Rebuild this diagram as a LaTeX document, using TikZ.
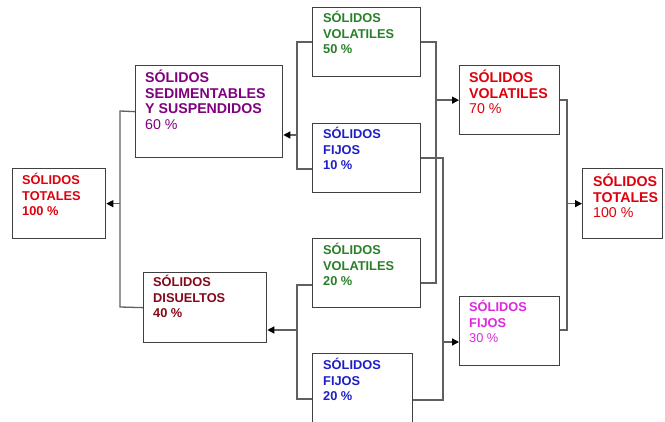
\documentclass[tikz,border=0pt]{standalone}
\usepackage{fontspec}
\setmainfont{Liberation Sans}
\usetikzlibrary{arrows.meta,calc}
\definecolor{cRed}{RGB}{222,0,12}
\definecolor{cPurple}{RGB}{128,0,128}
\definecolor{cMaroon}{RGB}{132,8,24}
\definecolor{cGreen}{RGB}{40,128,40}
\definecolor{cBlue}{RGB}{30,30,200}
\definecolor{cMagenta}{RGB}{222,40,222}
\definecolor{cBorder}{RGB}{64,64,64}
\definecolor{cLine}{RGB}{96,96,96}
\newcommand{\smallf}{\fontsize{12.8}{15.5}\selectfont\bfseries}
\newcommand{\largef}{\fontsize{14.2}{15.5}\selectfont\bfseries}
\begin{document}
\begin{tikzpicture}[x=1pt,y=-1pt,
  box/.style={draw=cBorder,line width=1.3pt,fill=white,rectangle,inner sep=0pt,anchor=north west},
  lab/.style={anchor=base west,inner sep=0pt,align=left},
  conn/.style={draw=cLine,line width=1.3pt},
  arr/.style={draw=cLine,line width=1.3pt,-{Triangle[length=7pt,width=7pt,color=black]}}]
\useasboundingbox (0,0) rectangle (665,422);
\clip (0,0) rectangle (665,422);
\fill[white] (0,0) rectangle (665,422);
% boxes
\node[box,minimum width=93pt,minimum height=70pt] (st1) at (12,168) {};
\node[box,minimum width=147pt,minimum height=92pt] (sed) at (135,65) {};
\node[box,minimum width=123pt,minimum height=70pt] (dis) at (143,272) {};
\node[box,minimum width=108pt,minimum height=69pt] (volA) at (312,7) {};
\node[box,minimum width=108pt,minimum height=69pt] (fijA) at (312,123) {};
\node[box,minimum width=108pt,minimum height=69pt] (volB) at (312,238) {};
\node[box,minimum width=100pt,minimum height=80pt] (fijB) at (312,353) {};
\node[box,minimum width=100pt,minimum height=69pt] (v70) at (459,65) {};
\node[box,minimum width=100pt,minimum height=69pt] (f30) at (459,296) {};
\node[box,minimum width=80pt,minimum height=70pt] (st2) at (582,168) {};
% labels
\node[lab,text=cRed,font=\smallf] (tst1) at (22,185) {\vtop{\hbox{SÓLIDOS}\hbox{TOTALES}\hbox{100 \%}}};
\node[lab,text=cPurple,font=\largef] (tsed) at (145,83) {\vtop{\hbox{SÓLIDOS}\hbox{SEDIMENTABLES}\hbox{Y SUSPENDIDOS}\hbox{\mdseries 60 \%}}};
\node[lab,text=cMaroon,font=\smallf] (tdis) at (153,287) {\vtop{\hbox{SÓLIDOS}\hbox{DISUELTOS}\hbox{40 \%}}};
\node[lab,text=cGreen,font=\smallf] (tvolA) at (323,23) {\vtop{\hbox{SÓLIDOS}\hbox{VOLATILES}\hbox{50 \%}}};
\node[lab,text=cBlue,font=\smallf] (tfijA) at (323,139) {\vtop{\hbox{SÓLIDOS}\hbox{FIJOS}\hbox{10 \%}}};
\node[lab,text=cGreen,font=\smallf] (tvolB) at (323,255) {\vtop{\hbox{SÓLIDOS}\hbox{VOLATILES}\hbox{20 \%}}};
\node[lab,text=cBlue,font=\smallf] (tfijB) at (323,370) {\vtop{\hbox{SÓLIDOS}\hbox{FIJOS}\hbox{20 \%}}};
\node[lab,text=cRed,font=\largef] (tv70) at (469,83) {\vtop{\hbox{SÓLIDOS}\hbox{VOLATILES}\hbox{\mdseries 70 \%}}};
\node[lab,text=cMagenta,font=\smallf] (tf30) at (469,312) {\vtop{\hbox{SÓLIDOS}\hbox{FIJOS}\hbox{\mdseries 30 \%}}};
\node[lab,text=cRed,font=\largef] (tst2) at (593,187) {\vtop{\hbox{SÓLIDOS}\hbox{TOTALES}\hbox{\mdseries 100 \%}}};
% junction coordinates
\coordinate (lt) at (120,111);
\coordinate (lb) at (120,307);
\coordinate (mt2) at (297,169);
\coordinate (ma) at (297,135);
\coordinate (mb1) at (297,285);
\coordinate (mb2) at (297,399);
\coordinate (mba) at (297,330);
\coordinate (r1) at (436,283);
\coordinate (r2) at (443,400);
\coordinate (r2a) at (443,342);
\coordinate (r3) at (567,330);
% connectors
\draw[conn] (sed.west) -- (lt) -- (lb) -- (dis.west);
\draw[arr] (lt |- st1.east) -- (st1.east);
\draw[conn] (volA.west) -| (mt2) -- (mt2 -| fijA.west);
\draw[arr] (ma) -- (ma -| sed.east);
\draw[conn] (mb1 -| volB.west) -- (mb1) -- (mb2) -- (mb2 -| fijB.west);
\draw[arr] (mba) -- (mba -| dis.east);
\draw[conn] (volA.east) -| (r1) -- (r1 -| volB.east);
\draw[arr] (r1 |- v70.west) -- (v70.west);
\draw[conn] (fijA.east) -| (r2) -- (r2 -| fijB.east);
\draw[arr] (r2a) -- (r2a -| f30.west);
\draw[conn] (v70.east) -| (r3) -- (r3 -| f30.east);
\draw[arr] (r3 |- st2.west) -- (st2.west);
\end{tikzpicture}
\end{document}
